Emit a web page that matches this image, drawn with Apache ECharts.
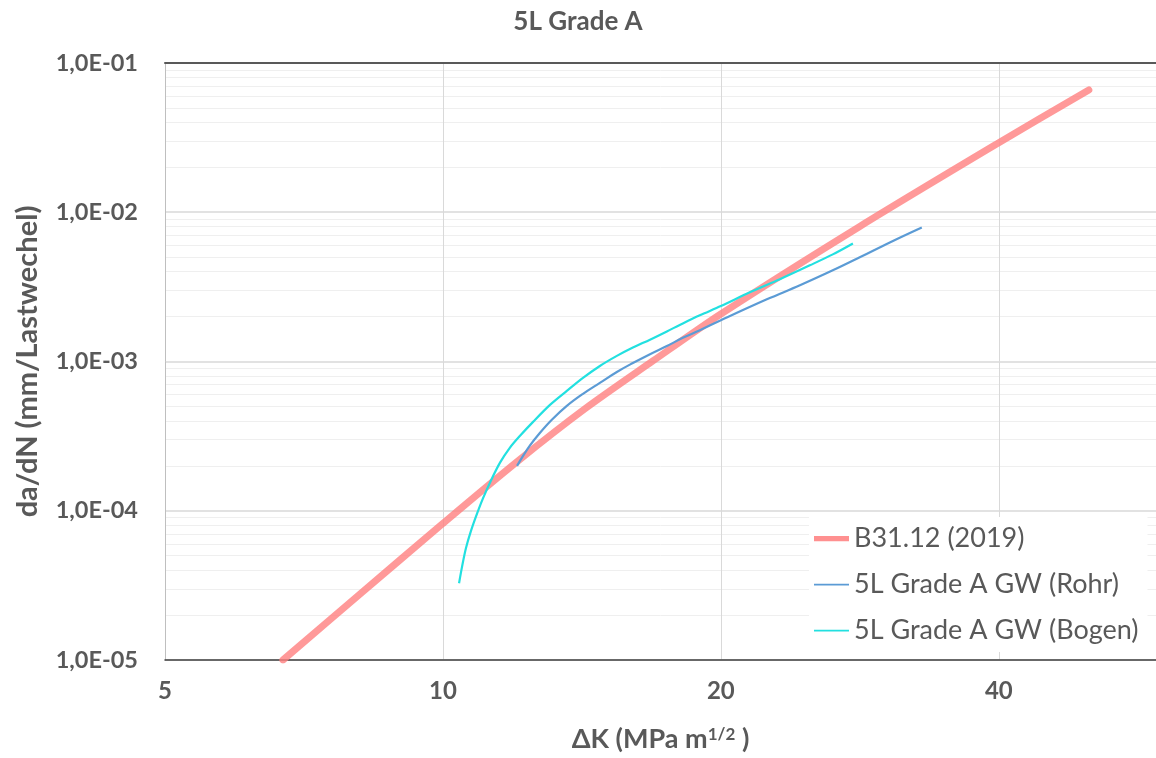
<!DOCTYPE html>
<html><head><meta charset="utf-8">
<script src="https://cdn.jsdelivr.net/npm/echarts@6/dist/echarts.min.js"></script>
<style>html,body{margin:0;padding:0;background:#fff}#c{width:1156px;height:758px}</style>
</head><body><div id="c"></div>
<script>
const chartTitle = '5L Grade A';
const seriesNames = ['B31.12 (2019)', '5L Grade A GW (Rohr)', '5L Grade A GW (Bogen)'];

const b31K = [6.71, 8.13, 10.0, 12.03, 14.25, 16.88, 20.0, 28.28, 40.0, 50.07];
const b31V = [1.0e-5, 2.76e-5, 8.22e-5, 2.13e-4, 4.82e-4, 1.008e-3, 2.08e-3, 8.03e-3, 2.92e-2, 6.60e-2];

const rohrK = [12.03, 12.18, 12.42, 12.74, 13.12, 13.62, 14.18, 14.79, 15.43, 16.06, 16.76, 17.48, 18.19, 18.98, 20.0, 22.43, 24.36, 26.44, 28.28, 30.48, 33.01];
const rohrV = [2.00e-4, 2.27e-4, 2.73e-4, 3.33e-4, 4.07e-4, 5.04e-4, 6.07e-4, 7.19e-4, 8.51e-4, 9.77e-4, 1.12e-3, 1.27e-3, 1.44e-3, 1.62e-3, 1.89e-3, 2.61e-3, 3.24e-3, 4.08e-3, 4.99e-3, 6.28e-3, 7.91e-3];

const bogenK = [10.41, 10.49, 10.59, 10.72, 10.89, 11.05, 11.27, 11.53, 11.82, 12.12, 12.52, 13.06, 13.62, 14.18, 14.79, 15.43, 16.06, 16.76, 17.48, 18.19, 18.98, 20.0, 21.50, 23.17, 24.97, 26.44, 27.80];
const bogenV = [3.27e-5, 4.24e-5, 5.60e-5, 7.27e-5, 9.59e-5, 1.21e-4, 1.59e-4, 2.10e-4, 2.65e-4, 3.18e-4, 3.94e-4, 5.12e-4, 6.35e-4, 7.76e-4, 9.33e-4, 1.09e-3, 1.24e-3, 1.40e-3, 1.59e-3, 1.80e-3, 2.04e-3, 2.35e-3, 2.91e-3, 3.56e-3, 4.41e-3, 5.22e-3, 6.18e-3];

const xTicks = [5, 10, 20, 40];
const xMin = 5, xMax = 59.2;
const yTicks = [1e-5, 1e-4, 1e-3, 1e-2, 1e-1];
const yMinorTicks = [];
[1e-5, 1e-4, 1e-3, 1e-2].forEach(d => { for (let m = 2; m <= 9; m++) yMinorTicks.push(d * m); });

const zip = (a, b) => a.map((v, i) => [v, b[i]]);
const textColor = '#595959';
const font = 'Lato, "Open Sans", sans-serif';

function yFmt(v) {
  const e = Math.round(Math.log10(v));
  const a = Math.abs(e);
  return '1,0E' + (e < 0 ? '-' : '+') + (a < 10 ? '0' : '') + a;
}

const chart = echarts.init(document.getElementById('c'), null, {renderer: 'canvas'});
chart.setOption({
  animation: false,
  backgroundColor: '#fff',
  textStyle: {fontFamily: font},
  title: {
    text: chartTitle, left: 'center', top: 4,
    textStyle: {fontFamily: font, fontSize: 26, fontWeight: 'bold', color: textColor}
  },
  grid: {left: 165, top: 63, right: 0, bottom: 96, containLabel: false},
  legend: {
    orient: 'vertical', left: 809, top: 517,
    backgroundColor: '#fff', padding: [8, 9, 8, 5],
    itemWidth: 35, itemHeight: 14, itemGap: 19,
    textStyle: {fontFamily: font, fontSize: 27, color: textColor},
    data: [
      {name: seriesNames[0], icon: 'path://M0,0M0,14M0,4H40V10H0Z'},
      {name: seriesNames[1], icon: 'path://M0,0M0,14M0,6H40V8H0Z'},
      {name: seriesNames[2], icon: 'path://M0,0M0,14M0,6H40V8H0Z'}
    ]
  },
  xAxis: [{
    type: 'log', logBase: 2, min: xMin, max: xMax,
    name: '{a|ΔK (MPa m}{s|1/2}{a| )}',
    nameLocation: 'middle', nameGap: 66,
    nameTextStyle: {
      rich: {
        a: {fontFamily: font, fontSize: 27, fontWeight: 'bold', color: textColor},
        s: {fontFamily: font, fontSize: 17, fontWeight: 'bold', color: textColor, verticalAlign: 'top', padding: [0, 0, 10, 0]}
      }
    },
    axisLine: {show: true, lineStyle: {color: '#404040', width: 1.5}},
    axisTick: {show: false, customValues: xTicks},
    axisLabel: {customValues: xTicks, margin: 19, fontFamily: font, fontSize: 24, fontWeight: 'bold', color: textColor},
    splitLine: {show: true, lineStyle: {color: '#d9d9d9', width: 1}}
  }, {
    type: 'value', position: 'top', min: 0, max: 1,
    axisLine: {show: true, lineStyle: {color: '#595959', width: 2}},
    axisTick: {show: false}, axisLabel: {show: false}, splitLine: {show: false}
  }],
  yAxis: [{
    type: 'log', logBase: 10, min: 1e-5, max: 1e-1,
    name: 'da/dN (mm/Lastwechel)', nameLocation: 'middle', nameGap: 123,
    nameTextStyle: {fontFamily: font, fontSize: 29, fontWeight: 'bold', color: textColor},
    axisLine: {show: true, lineStyle: {color: '#bfbfbf', width: 1}},
    axisTick: {show: false, customValues: yTicks},
    axisLabel: {customValues: yTicks, formatter: yFmt, margin: 27, fontFamily: font, fontSize: 23.5, fontWeight: 'bold', color: textColor},
    splitLine: {show: true, lineStyle: {color: '#d9d9d9', width: 1.5}}
  }, {
    type: 'log', logBase: 10, min: 1e-5, max: 1e-1, position: 'left',
    axisLine: {show: false},
    axisTick: {show: false, customValues: yMinorTicks},
    axisLabel: {show: false},
    splitLine: {show: true, lineStyle: {color: '#efefef', width: 1}},
    z: 0
  }],
  series: [{
    name: seriesNames[0], type: 'line', data: zip(b31K, b31V), smooth: 0.3,
    symbol: 'none', xAxisIndex: 0, yAxisIndex: 0, z: 2,
    lineStyle: {color: '#ff8080', width: 7, opacity: 0.8, cap: 'round'},
    itemStyle: {color: '#ff9090'}
  }, {
    name: seriesNames[1], type: 'line', data: zip(rohrK, rohrV), smooth: 0.4,
    symbol: 'none', xAxisIndex: 0, yAxisIndex: 0, z: 3,
    lineStyle: {color: '#5b9bd5', width: 2.2},
    itemStyle: {color: '#5b9bd5'}
  }, {
    name: seriesNames[2], type: 'line', data: zip(bogenK, bogenV), smooth: 0.3,
    symbol: 'none', xAxisIndex: 0, yAxisIndex: 0, z: 4,
    lineStyle: {color: '#22e0e0', width: 2.2},
    itemStyle: {color: '#22e0e0'}
  }]
});
</script></body></html>
